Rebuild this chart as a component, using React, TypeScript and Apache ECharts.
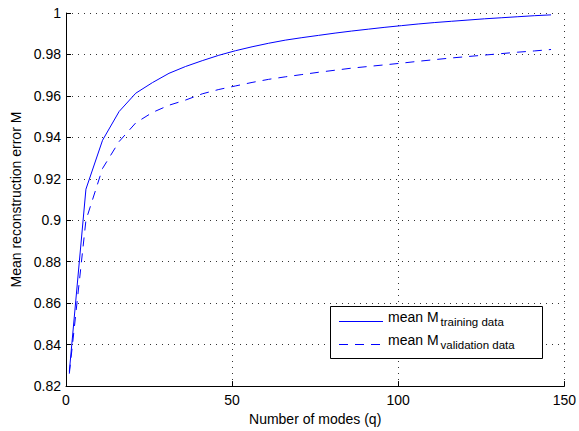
import React, { useEffect, useRef } from "react";
import * as echarts from "echarts";

const modes = [1, 6, 11, 16, 21, 26, 31, 36, 41, 46, 51, 56, 61, 66, 71, 76, 81, 86, 91, 96, 101, 106, 111, 116, 121, 126, 131, 136, 141, 146];
const trainingM = [0.827, 0.915, 0.9386, 0.9525, 0.9613, 0.9664, 0.9709, 0.9742, 0.977, 0.9796, 0.9818, 0.9837, 0.9854, 0.9869, 0.9881, 0.9892, 0.9903, 0.9913, 0.9922, 0.9931, 0.9939, 0.9947, 0.9954, 0.996, 0.9966, 0.9972, 0.9977, 0.9982, 0.9987, 0.9991];
const validationM = [0.826, 0.9, 0.925, 0.938, 0.947, 0.952, 0.9555, 0.958, 0.961, 0.9631, 0.9648, 0.9665, 0.968, 0.9692, 0.9703, 0.9714, 0.9724, 0.9734, 0.9742, 0.975, 0.9758, 0.9767, 0.9775, 0.9783, 0.979, 0.9797, 0.9804, 0.9811, 0.9817, 0.9824];
const seriesNames = ["training data", "validation data"];
const xAxisTitle = "Number of modes (q)";
const yAxisTitle = "Mean reconstruction error M";

const FONT = "'Liberation Sans', Arial, Helvetica, sans-serif";
const BLUE = "#0000ff";

export default function App() {
  const ref = useRef<HTMLDivElement>(null);
  useEffect(() => {
    if (!ref.current) return;
    const chart = echarts.init(ref.current, undefined, { renderer: "svg" });
    const gridLine = { show: true, lineStyle: { color: "#333", width: 1, type: [1, 5] as any } };
    const legendRows = [
      { y: 321.5, dash: "solid" as any, main: "mean M", sub: seriesNames[0] },
      { y: 344.5, dash: [9, 7] as any, main: "mean M", sub: seriesNames[1] },
    ];
    const graphic: any[] = [
      {
        type: "rect",
        shape: { x: 330.5, y: 306.5, width: 212, height: 52 },
        style: { fill: "#fff", stroke: "#000", lineWidth: 1 },
        z: 100,
      },
    ];
    legendRows.forEach((r) => {
      graphic.push({
        type: "line",
        shape: { x1: 339, y1: r.y, x2: 383, y2: r.y },
        style: { stroke: BLUE, lineWidth: 1, lineDash: r.dash === "solid" ? null : r.dash },
        z: 101,
      });
      graphic.push({
        type: "text",
        x: 388,
        y: r.y - 4.5,
        style: { text: r.main, font: `14px ${FONT}`, fill: "#000", verticalAlign: "middle", align: "left" },
        z: 101,
      });
      graphic.push({
        type: "text",
        x: 440.5,
        y: r.y + 0.5,
        style: { text: r.sub, font: `11.5px ${FONT}`, fill: "#000", verticalAlign: "middle", align: "left" },
        z: 101,
      });
    });

    chart.setOption({
      animation: false,
      backgroundColor: "#fff",
      textStyle: { fontFamily: FONT },
      grid: { left: 66, right: 12, top: 13, bottom: 43, containLabel: false },
      xAxis: {
        type: "value",
        min: 0,
        max: 150,
        interval: 50,
        name: xAxisTitle,
        nameLocation: "middle",
        nameGap: 25,
        nameTextStyle: { fontSize: 14, color: "#000", fontFamily: FONT },
        axisLine: { show: true, onZero: false, lineStyle: { color: "#000", width: 1 } },
        axisTick: { show: true, inside: true, length: 5, lineStyle: { color: "#000" } },
        axisLabel: { fontSize: 14, color: "#000", margin: 7, fontFamily: FONT },
        splitLine: gridLine,
      },
      yAxis: {
        type: "value",
        min: 0.82,
        max: 1,
        interval: 0.02,
        name: yAxisTitle,
        nameLocation: "middle",
        nameGap: 41,
        nameTextStyle: { fontSize: 14, color: "#000", fontFamily: FONT },
        axisLine: { show: true, onZero: false, lineStyle: { color: "#000", width: 1 } },
        axisTick: { show: true, inside: true, length: 5, lineStyle: { color: "#000" } },
        axisLabel: { fontSize: 14, color: "#000", margin: 5, fontFamily: FONT },
        splitLine: gridLine,
      },
      series: [
        {
          name: seriesNames[0],
          type: "line",
          data: modes.map((q, i) => [q, trainingM[i]]),
          symbol: "none",
          lineStyle: { color: BLUE, width: 1 },
        },
        {
          name: seriesNames[1],
          type: "line",
          data: modes.map((q, i) => [q, validationM[i]]),
          symbol: "none",
          lineStyle: { color: BLUE, width: 1, type: [9, 7] },
        },
      ],
      graphic,
    });
    return () => chart.dispose();
  }, []);
  return <div ref={ref} style={{ width: 579, height: 431, position: "absolute", left: 0, top: 0 }} />;
}
